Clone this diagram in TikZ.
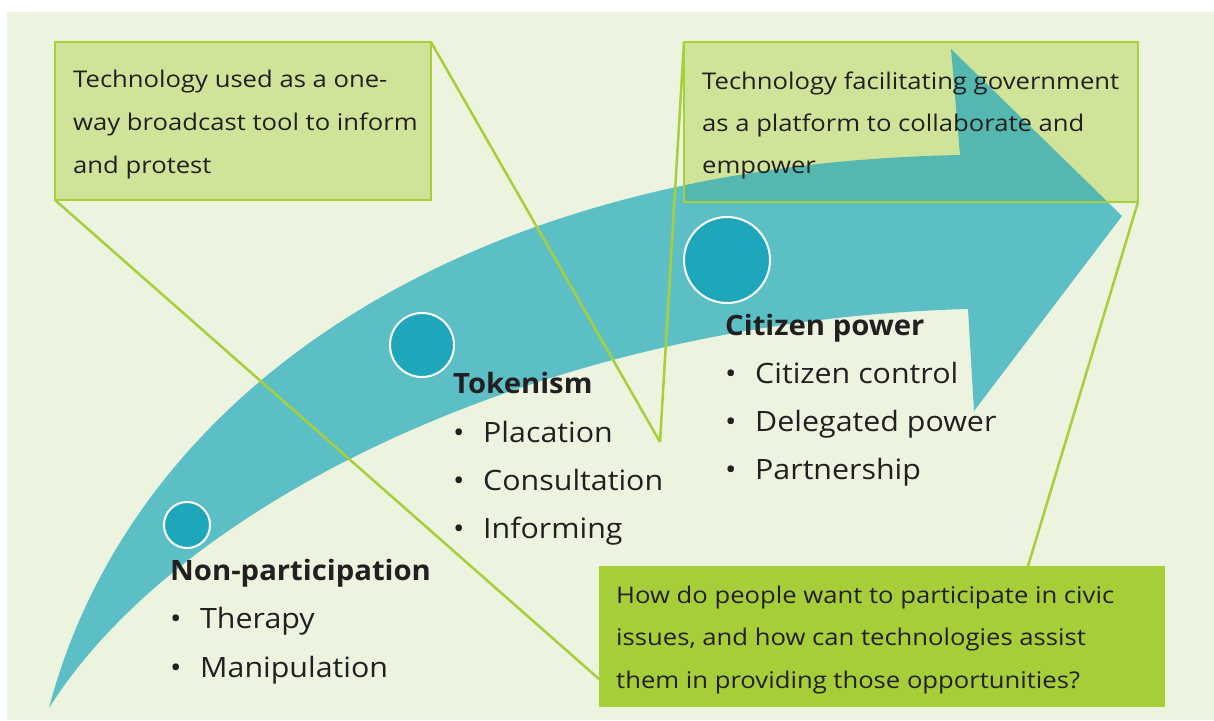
\documentclass[tikz,border=0pt]{standalone}
\usepackage{fontspec}
\setmainfont{Open Sans}
\newfontfamily\notefont{Open Sans}[FakeStretch=1.115]
\newfontfamily\itemfont{Open Sans}[FakeStretch=1.085]
\newfontfamily\headfont{Open Sans}[FakeStretch=1.045]
\definecolor{bgc}{HTML}{ECF4DF}
\definecolor{arrowc}{HTML}{5DBFC6}
\definecolor{dotc}{HTML}{1EA6BA}
\definecolor{boxc}{HTML}{CFE499}
\definecolor{edgec}{HTML}{A7CF3A}
\definecolor{mixc}{HTML}{55B8B0}
\definecolor{qboxc}{HTML}{A6CE39}
\definecolor{txtc}{HTML}{231F20}
\newcommand\lbullet[1]{\makebox[30pt][l]{•}#1}
\begin{document}
\begin{tikzpicture}[x=1pt,y=-1pt,
  dot/.style={circle,fill=dotc,draw=white,line width=2pt,inner sep=0pt},
  boxline/.style={draw=edgec,line width=2.2pt},
  callout/.style={draw=edgec,line width=2.5pt},
  emptybox/.style={rectangle,anchor=north west,inner sep=0pt,outer sep=0pt},
  boxtxt/.style={anchor=base west,inner sep=0pt,text=txtc,font=\notefont\fontsize{23}{43}\selectfont},
  head/.style={anchor=base west,inner sep=0pt,text=txtc,font=\headfont\fontsize{28}{48}\selectfont\bfseries},
  item/.style={anchor=base west,inner sep=0pt,text=txtc,font=\itemfont\fontsize{28}{48}\selectfont}]
\useasboundingbox (0,0) rectangle (1214,720);
\fill[white] (0,0) rectangle (1214,720);
\fill[bgc] (7,12) rectangle (1214,720);

% curved arrow
\fill[arrowc] (49,708) .. controls (130,400) and (450,165) .. (960,155)
  -- (951,49) -- (1122,216) -- (974,411) -- (968,309)
  .. controls (550,320) and (180,500) .. (49,708) -- cycle;

% upper-right note: fill, tinted where it lies over the arrow, then frame
\fill[boxc] (684,42) rectangle (1138,202);
\begin{scope}
  \clip (49,708) .. controls (130,400) and (450,165) .. (960,155)
    -- (951,49) -- (1122,216) -- (974,411) -- (968,309)
    .. controls (550,320) and (180,500) .. (49,708) -- cycle;
  \fill[mixc] (684,42) rectangle (1138,202);
\end{scope}
\node[emptybox,boxline,minimum width=454pt,minimum height=160pt] (tr) at (684,42) {};

% upper-left note
\node[emptybox,boxline,fill=boxc,minimum width=376pt,minimum height=158pt] (tl) at (55,42) {};

% question box
\node[emptybox,fill=qboxc,minimum width=566pt,minimum height=141pt] (q) at (599,566) {};

% callout connectors
\coordinate (meet) at (660,442);
\coordinate (qleft) at (599,679);
\coordinate (qtop) at (1028,566);
\draw[callout] (tl.north east) -- (meet);
\draw[callout] (tr.north west) -- (meet);
\draw[callout] (tl.south west) -- (qleft);
\draw[callout] (tr.south east) -- (qtop);

% stage markers
\node[dot,minimum size=46pt] (c1) at (187,525) {};
\node[dot,minimum size=64pt] (c2) at (422,345) {};
\node[dot,minimum size=86pt] (c3) at (727,260) {};

% note texts
\node[boxtxt] (tl1) at (73,87) {Technology used as a one-};
\node[boxtxt] (tl2) at (73,130) {way broadcast tool to inform};
\node[boxtxt] (tl3) at (73,173) {and protest};
\node[boxtxt] (tr1) at (702,89) {Technology facilitating government};
\node[boxtxt] (tr2) at (702,131) {as a platform to collaborate and};
\node[boxtxt] (tr3) at (702,173) {empower};
\node[boxtxt] (q1) at (616,603) {How do people want to participate in civic};
\node[boxtxt] (q2) at (616,645) {issues, and how can technologies assist};
\node[boxtxt] (q3) at (616,688) {them in providing those opportunities?};

% stage labels
\node[head] (h1) at (170,580) {Non-participation};
\node[item] (h1a) at (170,628) {\lbullet{Therapy}};
\node[item] (h1b) at (170,677) {\lbullet{Manipulation}};
\node[head] (h2) at (453,393) {Tokenism};
\node[item] (h2a) at (453,442) {\lbullet{Placation}};
\node[item] (h2b) at (453,490) {\lbullet{Consultation}};
\node[item] (h2c) at (453,538) {\lbullet{Informing}};
\node[head] (h3) at (725,335) {Citizen power};
\node[item] (h3a) at (725,383) {\lbullet{Citizen control}};
\node[item] (h3b) at (725,431) {\lbullet{Delegated power}};
\node[item] (h3c) at (725,479) {\lbullet{Partnership}};
\end{tikzpicture}
\end{document}
